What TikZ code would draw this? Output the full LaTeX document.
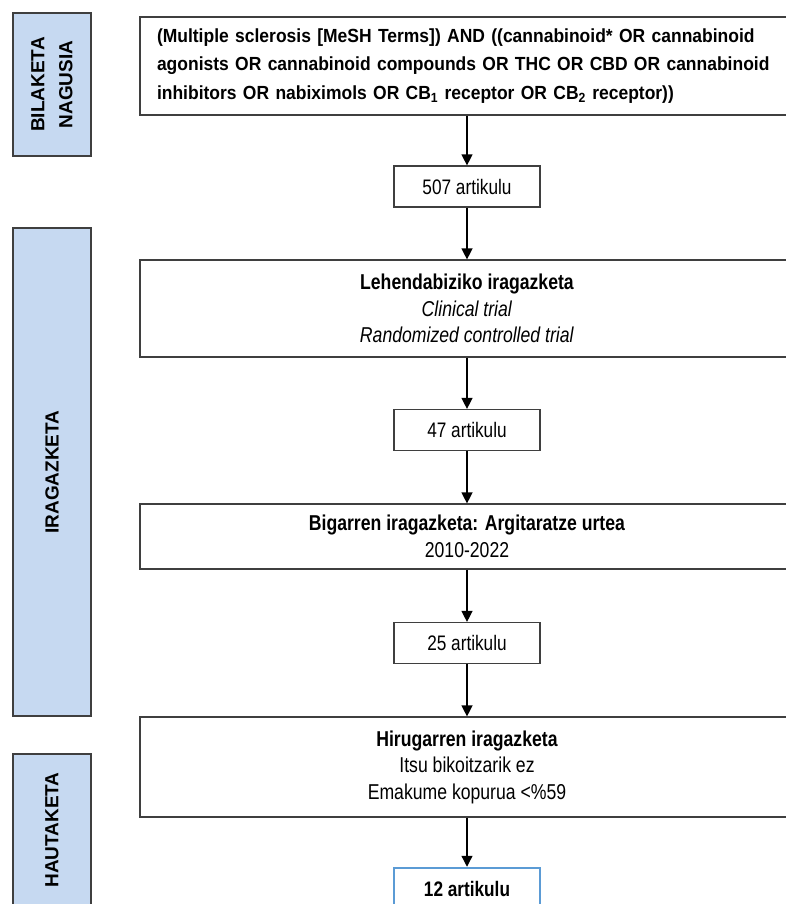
\documentclass[tikz,border=0pt]{standalone}
\usepackage{xcolor}
\usepackage{fontspec}
\setmainfont{Liberation Sans}
\newfontfamily\narrowfont{Liberation Sans}[FakeStretch=0.82]
\newfontfamily\queryfont{Liberation Sans}[FakeStretch=0.92]
\usetikzlibrary{arrows.meta,positioning}

\definecolor{labelblue}{HTML}{C6D9F1}
\definecolor{boxgray}{HTML}{3F3F3F}
\definecolor{endblue}{HTML}{5B9BD5}

\begin{document}
\begin{tikzpicture}[x=1pt,y=-1pt,
    stage/.style={draw=boxgray, fill=labelblue, line width=1.2pt, rotate=90,
      minimum height=78pt, align=center, inner sep=0pt,
      font=\bfseries\fontsize{19}{28}\selectfont},
    filterbox/.style={draw=boxgray, line width=1.2pt, minimum width=654pt,
      align=center, inner sep=0pt, font=\narrowfont\fontsize{21.5}{26.5}\selectfont},
    countbox/.style={draw=boxgray, line width=1.2pt, minimum width=146pt,
      minimum height=41pt, inner sep=0pt, font=\narrowfont\fontsize{21}{24}\selectfont},
    flow/.style={-{Triangle[length=11pt,width=11pt]}, line width=1.3pt}]
    \useasboundingbox (0,0) rectangle (786,904);
    \clip (0,0) rectangle (786,904);
    % stages on the left
    \node[stage, minimum width=143pt] (bilaketa) at (52,84.5) {BILAKETA\\NAGUSIA};
    \node[stage, minimum width=488pt] (iragazketa) at (52,472) {IRAGAZKETA};
    \node[stage, minimum width=152pt] (hautaketa) at (52,830) {HAUTAKETA};
    % search and filters
    \node[draw=boxgray, line width=1.2pt, minimum height=98pt, text width=620pt,
      inner xsep=17pt, align=left, font=\queryfont\bfseries\fontsize{19}{28.5}\selectfont]
      (query) at (467,66) {(Multiple sclerosis [MeSH Terms]) AND ((cannabinoid* OR cannabinoid\\
      agonists OR cannabinoid compounds OR THC OR CBD OR cannabinoid\\
      inhibitors OR nabiximols OR CB\textsubscript{1} receptor OR CB\textsubscript{2} receptor))};
    \node[countbox] (n507) at (467,186.5) {507 artikulu};
    \node[filterbox, minimum height=97pt] (filter1) at (467,308.5)
      {\textbf{Lehendabiziko iragazketa}\\\textit{Clinical trial}\\\textit{Randomized controlled trial}};
    \node[countbox] (n47) at (467,430) {47 artikulu};
    \node[filterbox, minimum height=65pt] (filter2) at (467,536.5)
      {\textbf{Bigarren iragazketa: Argitaratze urtea}\\2010-2022};
    \node[countbox] (n25) at (467,643) {25 artikulu};
    \node[filterbox, minimum height=100pt] (filter3) at (467,767)
      {\textbf{Hirugarren iragazketa}\\Itsu bikoitzarik ez\\Emakume kopurua <\%59};
    \node[countbox, draw=endblue, line width=2.5pt, font=\narrowfont\bfseries\fontsize{21}{24}\selectfont]
      (n12) at (467,888.5) {12 artikulu};
    % arrows
    \draw[flow] (query) -- (n507);
    \draw[flow] (n507) -- (filter1);
    \draw[flow] (filter1) -- (n47);
    \draw[flow] (n47) -- (filter2);
    \draw[flow] (filter2) -- (n25);
    \draw[flow] (n25) -- (filter3);
    \draw[flow] (filter3) -- (n12);
\end{tikzpicture}
\end{document}
